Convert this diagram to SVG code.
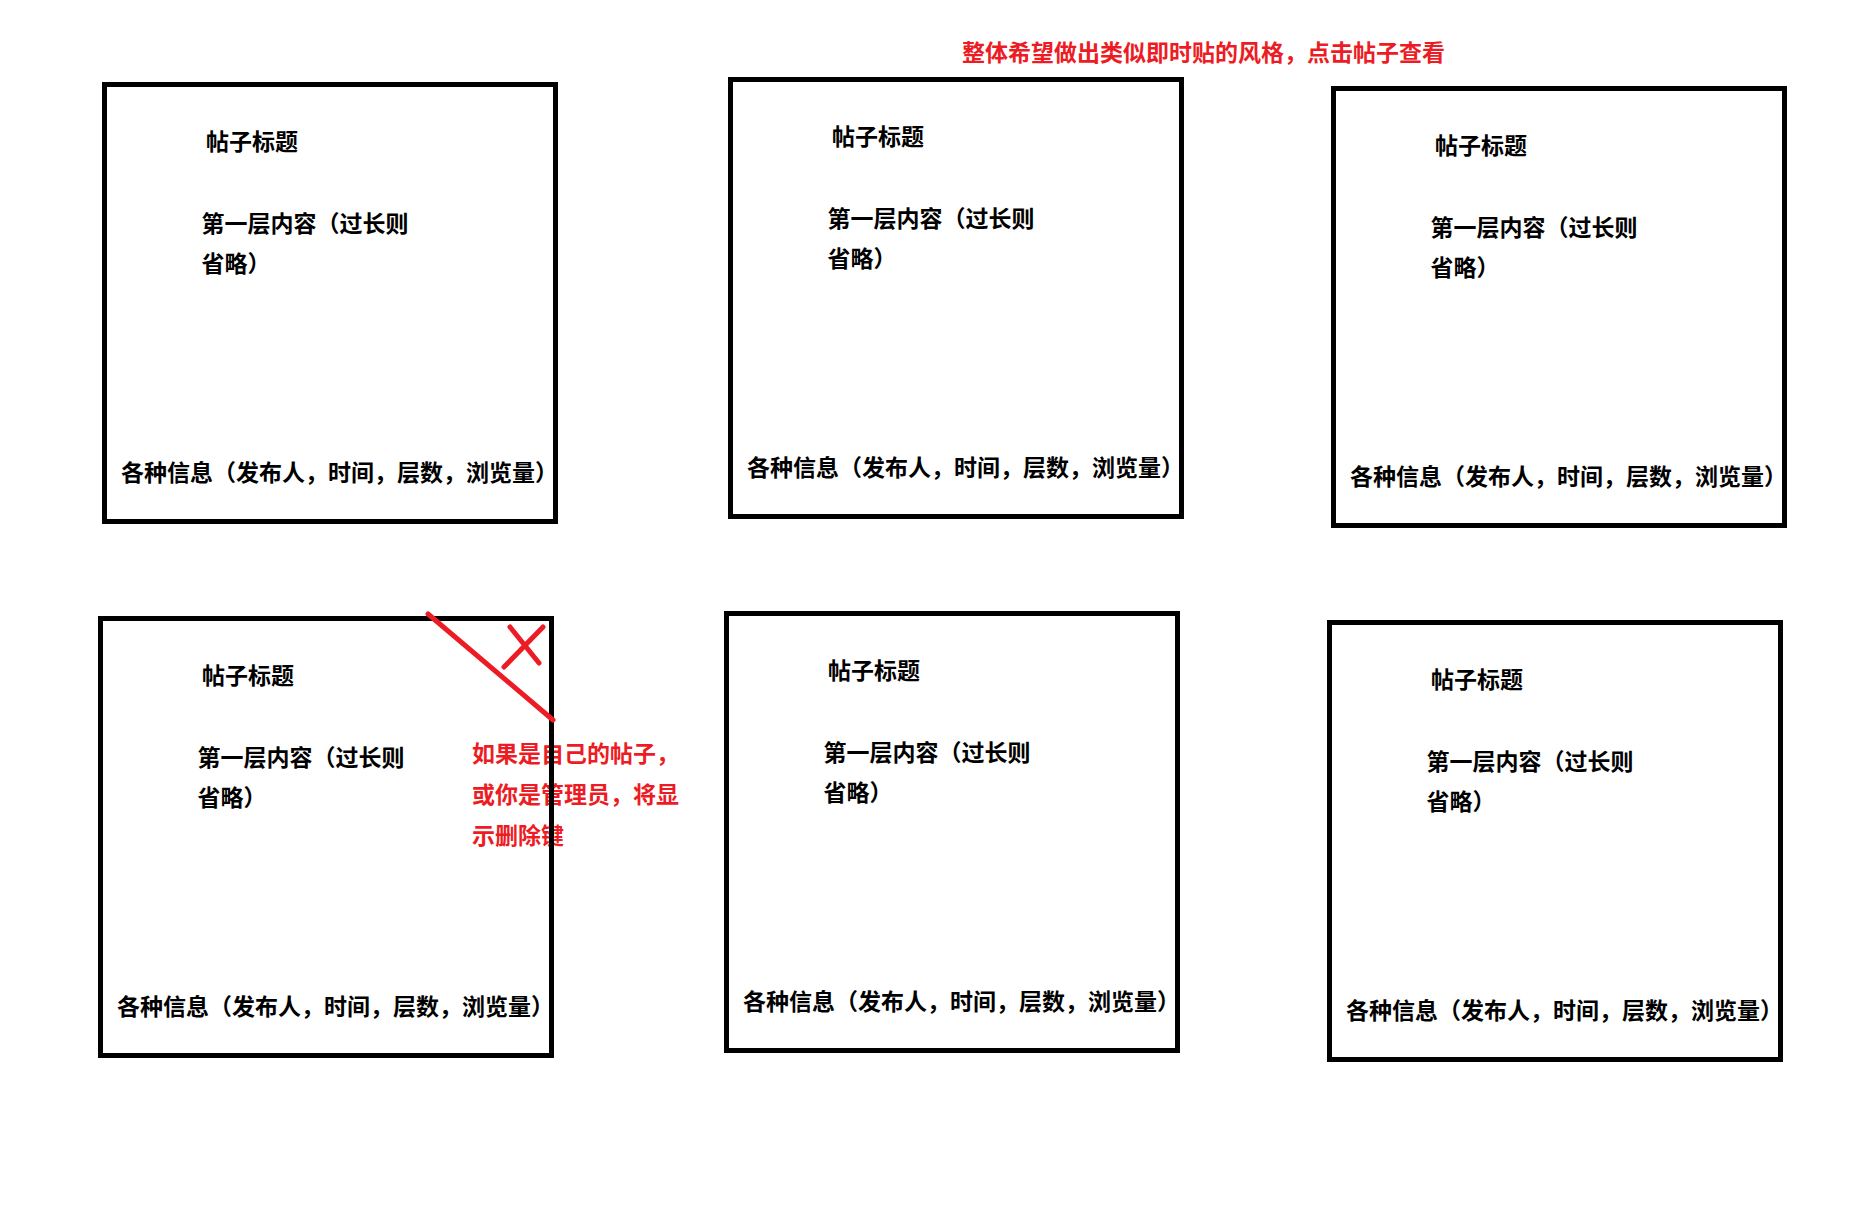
<svg xmlns="http://www.w3.org/2000/svg" width="1861" height="1227" viewBox="0 0 1861 1227">
<style>
  .box { fill: none; stroke: #000; stroke-width: 5; }
  .t { font-family: "Noto Sans CJK SC", "Microsoft YaHei", sans-serif; font-size: 23px; font-weight: bold; fill: #000; }
  .red { font-family: "Noto Sans CJK SC", "Microsoft YaHei", sans-serif; font-size: 23px; font-weight: bold; fill: #ED1C24; }
  .rl { stroke: #ED1C24; stroke-width: 5; stroke-linecap: round; fill: none; }
</style>
<rect x="0" y="0" width="1861" height="1227" fill="#fff"/>
<text class="red" x="962" y="61">整体希望做出类似即时贴的风格，点击帖子查看</text>
<g id="note">
  <text class="red" x="472" y="762">如果是自己的帖子，</text>
  <text class="red" x="472" y="803">或你是管理员，将显</text>
  <text class="red" x="472" y="844">示删除键</text>
</g>
<g id="post1" transform="translate(104.5,84.5)">
  <rect class="box" x="0" y="0" width="451" height="437"/>
  <text class="t" x="101.5" y="65.5">帖子标题</text>
  <text class="t" x="97" y="147">第一层内容（过长则</text>
  <text class="t" x="97" y="187">省略）</text>
  <text class="t" x="16.5" y="396">各种信息（发布人，时间，层数，浏览量）</text>
</g>
<g id="post2" transform="translate(730.5,79.5)">
  <rect class="box" x="0" y="0" width="451" height="437"/>
  <text class="t" x="101.5" y="65.5">帖子标题</text>
  <text class="t" x="97" y="147">第一层内容（过长则</text>
  <text class="t" x="97" y="187">省略）</text>
  <text class="t" x="16.5" y="396">各种信息（发布人，时间，层数，浏览量）</text>
</g>
<g id="post3" transform="translate(1333.5,88.5)">
  <rect class="box" x="0" y="0" width="451" height="437"/>
  <text class="t" x="101.5" y="65.5">帖子标题</text>
  <text class="t" x="97" y="147">第一层内容（过长则</text>
  <text class="t" x="97" y="187">省略）</text>
  <text class="t" x="16.5" y="396">各种信息（发布人，时间，层数，浏览量）</text>
</g>
<g id="post4" transform="translate(100.5,618.5)">
  <rect class="box" x="0" y="0" width="451" height="437"/>
  <text class="t" x="101.5" y="65.5">帖子标题</text>
  <text class="t" x="97" y="147">第一层内容（过长则</text>
  <text class="t" x="97" y="187">省略）</text>
  <text class="t" x="16.5" y="396">各种信息（发布人，时间，层数，浏览量）</text>
</g>
<g id="post5" transform="translate(726.5,613.5)">
  <rect class="box" x="0" y="0" width="451" height="437"/>
  <text class="t" x="101.5" y="65.5">帖子标题</text>
  <text class="t" x="97" y="147">第一层内容（过长则</text>
  <text class="t" x="97" y="187">省略）</text>
  <text class="t" x="16.5" y="396">各种信息（发布人，时间，层数，浏览量）</text>
</g>
<g id="post6" transform="translate(1329.5,622.5)">
  <rect class="box" x="0" y="0" width="451" height="437"/>
  <text class="t" x="101.5" y="65.5">帖子标题</text>
  <text class="t" x="97" y="147">第一层内容（过长则</text>
  <text class="t" x="97" y="187">省略）</text>
  <text class="t" x="16.5" y="396">各种信息（发布人，时间，层数，浏览量）</text>
</g>
<g id="connectors">
  <line class="rl" x1="428" y1="614" x2="553" y2="720"/>
  <line class="rl" x1="510" y1="627" x2="539" y2="663"/>
  <line class="rl" x1="543" y1="627" x2="504" y2="667"/>
</g>
</svg>
